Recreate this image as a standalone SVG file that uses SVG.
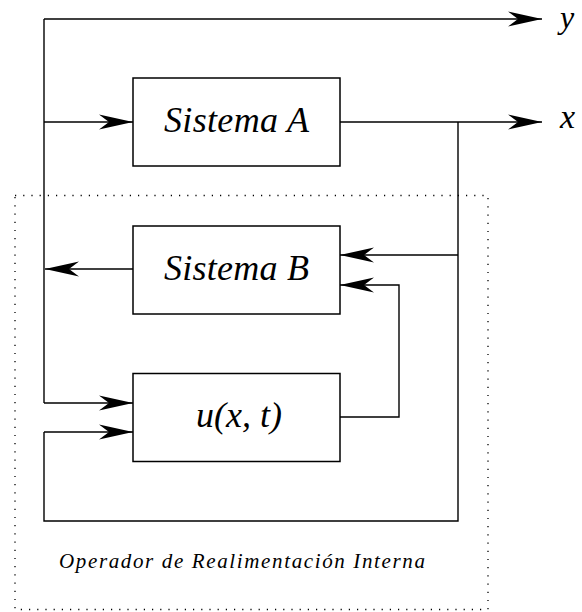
<svg xmlns="http://www.w3.org/2000/svg" width="582" height="612" viewBox="0 0 582 612">
  <defs>
    <marker id="ah" markerUnits="userSpaceOnUse" refX="0" refY="0" markerWidth="40" markerHeight="20" orient="auto" overflow="visible">
      <path d="M0,0 L-34,-7.5 L-24,0 L-34,7.5 Z" fill="#000"/>
    </marker>
  </defs>
  <style>
    .box { fill: #fff; stroke: #000; stroke-width: 1.5; }
    .ln { fill: none; stroke: #000; stroke-width: 1.4; }
    .arr { fill: none; stroke: #000; stroke-width: 1.4; marker-end: url(#ah); }
    text { fill: #000; font-family: 'Liberation Serif', 'Times New Roman', serif; font-style: italic; }
    .lbl { font-size: 36px; }
  </style>
  <rect width="582" height="612" fill="#fff"/>
  <g id="operador">
    <rect x="15" y="195.5" width="473" height="414" fill="none" stroke="#000" stroke-width="1.3" stroke-dasharray="1.2 7" />
    <text x="59" y="568" font-size="21" textLength="366" lengthAdjust="spacing">Operador de Realimentación Interna</text>
  </g>
  <g id="connectors">
    <polyline class="ln" points="44,19 44,403"/>
    <polyline class="arr" points="44,19 542,19"/>
    <polyline class="arr" points="44,122 133,122"/>
    <polyline class="arr" points="340,122 542,122"/>
    <polyline class="ln" points="458,122 458,521 44,521 44,432"/>
    <polyline class="arr" points="44,432 133,432"/>
    <polyline class="arr" points="44,403 133,403"/>
    <polyline class="arr" points="458,255 340,255"/>
    <polyline class="arr" points="133,269 45,269"/>
    <polyline class="arr" points="340,417 399,417 399,285 340,285"/>
  </g>
  <g id="sistemaA">
    <rect class="box" x="133" y="78" width="207" height="88"/>
    <text class="lbl" x="236.5" y="132" text-anchor="middle" textLength="145" lengthAdjust="spacing">Sistema A</text>
  </g>
  <g id="sistemaB">
    <rect class="box" x="133" y="226" width="207" height="88"/>
    <text class="lbl" x="236.5" y="280" text-anchor="middle" textLength="145" lengthAdjust="spacing">Sistema B</text>
  </g>
  <g id="u">
    <rect class="box" x="133" y="373.5" width="207" height="88"/>
    <text class="lbl" x="239" y="427" text-anchor="middle">u(x, t)</text>
  </g>
  <g id="out-y">
    <text x="560" y="28" font-size="32">y</text>
  </g>
  <g id="out-x">
    <text x="560" y="128" font-size="34">x</text>
  </g>
</svg>
